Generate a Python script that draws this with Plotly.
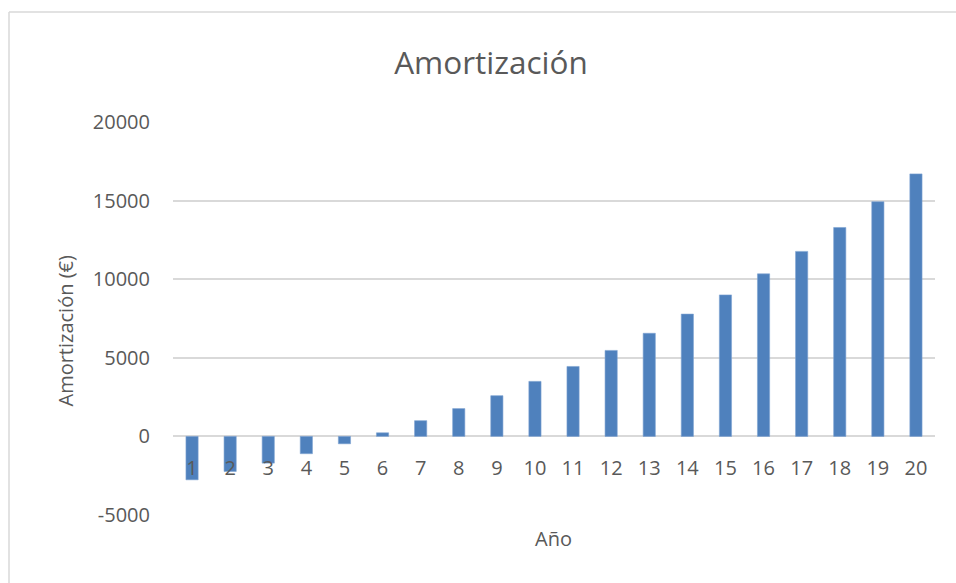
import plotly.graph_objects as go

years = [str(i) for i in range(1, 21)]
amortizacion = [-2760, -2230, -1700, -1100, -470, 230, 1000, 1770, 2590, 3500,
                4450, 5470, 6560, 7780, 9000, 10340, 11770, 13290, 14930, 16700]
y_ticks = [-5000, 0, 5000, 10000, 15000, 20000]
y_tick_text = ["-5000", "0", "5000", "10000", "15000", "20000"]

TXT = "#595959"
GRID = "#d9d9d9"
FONT = "Open Sans"

fig = go.Figure(go.Bar(
    x=years, y=amortizacion,
    marker=dict(color="#4f81bd", line=dict(color="#7ea3d1", width=0.6)),
    width=0.32,
))

W, H = 956, 583
L, R, T, B = 173, 21, 122, 68
pw, ph = W - L - R, H - T - B

fig.update_layout(
    width=W, height=H,
    margin=dict(l=L, r=R, t=T, b=B),
    paper_bgcolor="white", plot_bgcolor="white",
    font=dict(family=FONT, color=TXT, size=20),
    showlegend=False,
    title=dict(text="Amortización", x=491 / W, xanchor="center",
               y=1 - 63 / H, yanchor="middle", yref="container",
               font=dict(size=31.5, color=TXT, family=FONT)),
    xaxis=dict(
        type="category", anchor="free", position=0.2,
        showgrid=False, showline=False, zeroline=False,
        ticks="", ticklabelstandoff=18,
        tickfont=dict(size=20, color=TXT),
    ),
    yaxis=dict(
        range=[-5000, 20000], tickvals=y_ticks, ticktext=y_tick_text,
        showgrid=True, gridcolor=GRID, gridwidth=1.5,
        zeroline=True, zerolinecolor=GRID, zerolinewidth=1.5,
        showline=False, ticks="", ticklabelstandoff=22,
        tickfont=dict(size=20, color=TXT),
    ),
    annotations=[
        dict(text="Amortización (€)", textangle=-90, showarrow=False,
             xref="paper", yref="paper", x=(65 - L) / pw, y=(H - B - 331.5) / ph,
             xanchor="center", yanchor="middle", font=dict(size=20, color=TXT)),
        dict(text="Año", showarrow=False,
             xref="paper", yref="paper", x=(553 - L) / pw, y=(H - B - 538) / ph,
             xanchor="center", yanchor="middle", font=dict(size=20, color=TXT)),
    ],
    shapes=[
        dict(type="line", xref="paper", yref="paper",
             x0=(9 - L) / pw, x1=(W - L) / pw, y0=(H - B - 12) / ph, y1=(H - B - 12) / ph,
             line=dict(color="#d9d9d9", width=1.5)),
        dict(type="line", xref="paper", yref="paper",
             x0=(9 - L) / pw, x1=(9 - L) / pw, y0=(H - B - 12) / ph, y1=(H - B - H) / ph,
             line=dict(color="#d9d9d9", width=1.5)),
    ],
)

fig.write_html("out.html", config={"displayModeBar": False},
               post_script="document.body.style.margin='0';")
